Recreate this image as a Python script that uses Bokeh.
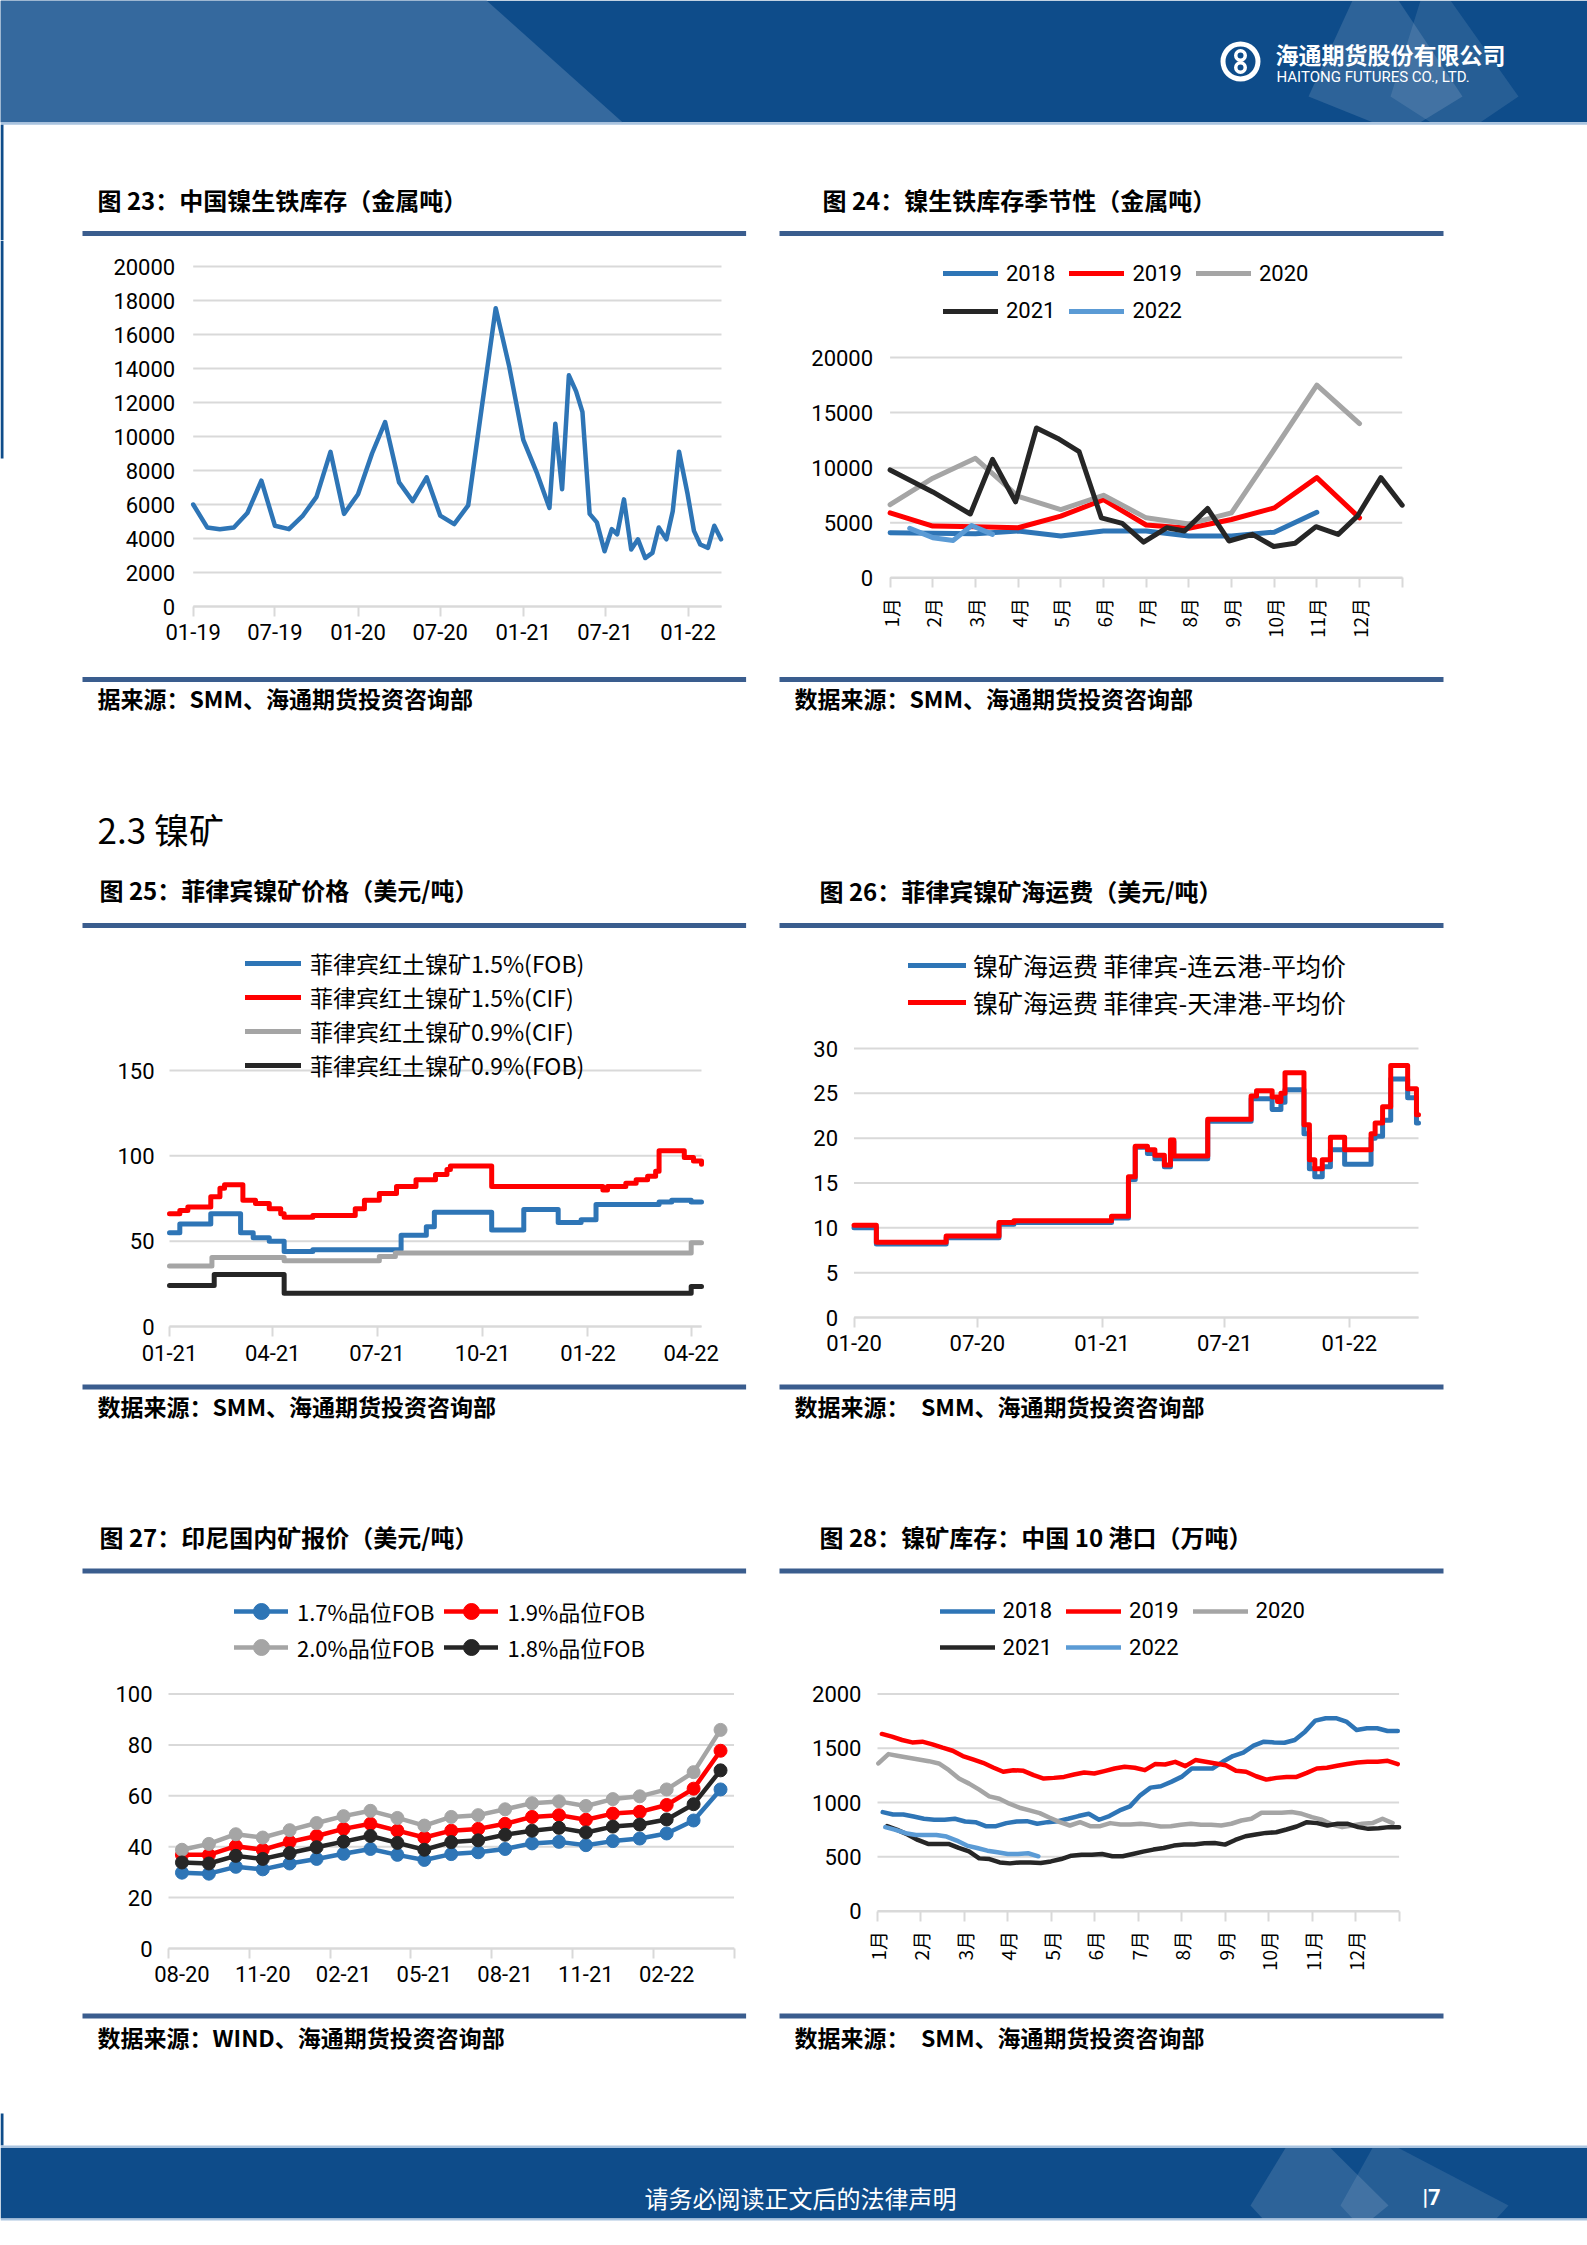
import math
import numpy as np
import pandas as pd
from bokeh.plotting import figure
from bokeh.layouts import column, row
from bokeh.models import Range1d, FixedTicker, Legend, LegendItem
from bokeh.core.properties import value
from bokeh.embed import file_html
from bokeh.resources import INLINE

# ====================== DATA ======================
# 图23 中国镍生铁库存（金属吨）
npi_dates = ["2019-01-01", "2019-02-01", "2019-03-01", "2019-04-01", "2019-05-01", "2019-06-01",
             "2019-07-01", "2019-08-01", "2019-09-01", "2019-10-01", "2019-11-01", "2019-12-01",
             "2020-01-01", "2020-02-01", "2020-03-01", "2020-04-01", "2020-05-01", "2020-06-01",
             "2020-07-01", "2020-08-01", "2020-09-01", "2020-10-01", "2020-11-01", "2020-12-01",
             "2021-01-01", "2021-02-01", "2021-02-28", "2021-03-13", "2021-03-28", "2021-04-12",
             "2021-04-28", "2021-05-12", "2021-05-28", "2021-06-13", "2021-06-30", "2021-07-16",
             "2021-07-28", "2021-08-12", "2021-08-28", "2021-09-12", "2021-09-28", "2021-10-14",
             "2021-10-28", "2021-11-14", "2021-11-28", "2021-12-12", "2021-12-31", "2022-01-14",
             "2022-01-28", "2022-02-14", "2022-02-28", "2022-03-15"]
npi_stock = [6000, 4650, 4550, 4650, 5500, 7400, 4750, 4550, 5350, 6450, 9100, 5450,
             6600, 9000, 10850, 7300, 6200, 7600, 5350, 4850, 5950, 11700, 17550, 14100,
             9800, 7800, 5800, 10750, 6900, 13600, 12650, 11450, 5450, 4950, 3250, 4550,
             4250, 6300, 3350, 3950, 2850, 3150, 4650, 3950, 5600, 9100, 6600, 4450,
             3650, 3450, 4750, 3950]
npi_tick_dates = ["2019-01-01", "2019-07-01", "2020-01-01", "2020-07-01", "2021-01-01", "2021-07-01", "2022-01-01"]
npi_tick_labels = ["01-19", "07-19", "01-20", "07-20", "01-21", "07-21", "01-22"]

# 图24 镍生铁库存季节性（金属吨）  x = month position (0 = 1月初)
season_labels = ["1月", "2月", "3月", "4月", "5月", "6月", "7月", "8月", "9月", "10月", "11月", "12月"]
season_2018 = [4100, 4050, 4000, 4250, 3800, 4250, 4250, 3800, 3800, 4150, 5950]
season_2019 = [5900, 4700, 4650, 4550, 5600, 7100, 4800, 4500, 5300, 6350, 9100, 5450]
season_2020 = [6650, 9050, 10850, 7400, 6200, 7500, 5450, 4900, 5900, 11650, 17500, 14000]
season_2021_pos = [0, 1, 1.88, 2.4, 2.94, 3.43, 3.93, 4.43, 4.95, 5.44, 5.94, 6.48, 6.9, 7.44,
                   7.94, 8.49, 8.99, 9.49, 9.98, 10.5, 10.95, 11.5, 12]
season_2021 = [9800, 7800, 5800, 10750, 6900, 13600, 12650, 11450, 5450, 4950, 3250, 4550, 4250,
               6300, 3350, 3950, 2850, 3150, 4650, 3950, 5600, 9100, 6600]
season_2022_pos = [0.46, 1.0, 1.48, 1.91, 2.4]
season_2022 = [4500, 3650, 3400, 4750, 3950]

# 图25 菲律宾镍矿价格（美元/吨） step series
ph15_fob_dates = ["2021-01-01", "2021-01-10", "2021-02-06", "2021-03-04", "2021-03-15", "2021-03-29",
                  "2021-04-11", "2021-05-06", "2021-07-22", "2021-08-13", "2021-08-20", "2021-10-09",
                  "2021-11-06", "2021-12-06", "2021-12-26", "2022-01-08", "2022-03-04", "2022-03-15",
                  "2022-04-01", "2022-04-10"]
ph15_fob = [55, 60, 66, 55, 52, 50, 44, 45, 53.5, 58.5, 67, 56.5, 68.5, 61, 62.5, 71.5, 73, 74, 73, 73]
ph15_cif_dates = ["2021-01-01", "2021-01-10", "2021-01-17", "2021-02-06", "2021-02-14", "2021-02-18",
                  "2021-03-06", "2021-03-17", "2021-03-29", "2021-04-08", "2021-04-11", "2021-05-06",
                  "2021-06-12", "2021-06-20", "2021-07-03", "2021-07-18", "2021-08-04", "2021-08-21",
                  "2021-08-31", "2021-09-03", "2021-10-09", "2022-01-14", "2022-01-18", "2022-02-03",
                  "2022-02-12", "2022-02-22", "2022-03-01", "2022-03-04", "2022-03-26", "2022-04-03",
                  "2022-04-10"]
ph15_cif = [66, 68, 70, 76, 81, 83, 74, 72, 69, 66, 64, 65, 69, 74, 78, 82, 86, 89, 92, 94, 82, 80,
            82, 84, 86, 88, 91, 103, 99, 97, 95]
ph09_cif_dates = ["2021-01-01", "2021-02-07", "2021-04-11", "2021-07-03", "2021-07-17", "2022-04-01", "2022-04-10"]
ph09_cif = [35.5, 40.5, 38.5, 41, 43, 49, 49]
ph09_fob_dates = ["2021-01-01", "2021-02-09", "2021-04-11", "2022-04-01", "2022-04-10"]
ph09_fob = [24, 30.5, 19.5, 23.5, 23.5]
ph_tick_dates = ["2021-01-01", "2021-04-01", "2021-07-01", "2021-10-01", "2022-01-01", "2022-04-01"]
ph_tick_labels = ["01-21", "04-21", "07-21", "10-21", "01-22", "04-22"]

# 图26 菲律宾镍矿海运费（美元/吨） step series
freight_dates = ["2020-01-01", "2020-02-03", "2020-05-16", "2020-08-02", "2020-08-24", "2021-01-15",
                 "2021-02-09", "2021-02-19", "2021-03-09", "2021-03-20", "2021-04-03", "2021-04-12",
                 "2021-04-17", "2021-06-06", "2021-08-09", "2021-08-17", "2021-09-09", "2021-09-17",
                 "2021-09-22", "2021-09-28", "2021-10-26", "2021-11-03", "2021-11-11", "2021-11-22",
                 "2021-12-04", "2021-12-25", "2022-02-02", "2022-02-08", "2022-02-19", "2022-03-03",
                 "2022-03-28", "2022-04-10", "2022-04-13"]
freight_lyg = [10.0, 8.2, 8.9, 10.4, 10.6, 11.1, 15.4, 19.0, 18.3, 17.7, 16.8, 19.6, 17.7, 21.9, 24.4,
               24.4, 23.2, 23.2, 24.0, 25.4, 20.5, 16.6, 15.7, 16.8, 18.7, 17.1, 20.0, 20.2, 22.0, 26.6,
               24.5, 21.7, 21.7]
freight_tj = [10.3, 8.4, 9.1, 10.6, 10.8, 11.3, 15.7, 19.1, 18.7, 18.1, 17.0, 19.8, 18.0, 22.1, 24.7,
              25.3, 24.6, 24.1, 25.0, 27.3, 21.5, 17.6, 16.6, 17.6, 20.1, 18.7, 20.5, 21.7, 23.5, 28.1,
              25.5, 22.6, 22.6]
freight_tick_dates = ["2020-01-01", "2020-07-01", "2021-01-01", "2021-07-01", "2022-01-01"]
freight_tick_labels = ["01-20", "07-20", "01-21", "07-21", "01-22"]

# 图27 印尼国内矿报价（美元/吨）
indo_months = ["08-20", "09-20", "10-20", "11-20", "12-20", "01-21", "02-21", "03-21", "04-21",
               "05-21", "06-21", "07-21", "08-21", "09-21", "10-21", "11-21", "12-21", "01-22",
               "02-22", "03-22", "04-22"]
indo_17 = [29.8, 29.4, 32.1, 31.1, 33.4, 35.2, 37.2, 39.1, 36.8, 34.8, 37.1, 37.8, 39.1, 41.3, 41.9,
           40.6, 42.2, 43.2, 45.2, 50.3, 62.5]
indo_19 = [36.8, 36.8, 40.2, 38.8, 41.9, 44.2, 47.0, 49.0, 46.3, 43.6, 46.3, 47.0, 49.0, 51.7, 52.4,
           50.6, 53.0, 53.7, 56.4, 62.8, 77.7]
indo_20 = [38.8, 41.1, 44.9, 43.6, 46.5, 49.3, 52.0, 54.1, 51.3, 48.3, 51.7, 52.4, 54.7, 57.1, 57.8,
           56.0, 58.7, 59.8, 62.5, 69.3, 85.9]
indo_18 = [33.8, 33.4, 36.4, 35.2, 37.5, 39.8, 42.0, 44.2, 41.5, 38.8, 41.8, 42.5, 44.7, 46.3, 47.4,
           45.6, 47.9, 48.7, 50.7, 56.7, 70.0]

# 图28 镍矿库存：中国10港口（万吨） weekly, first/last week position in months
port_2018 = [911, 890, 890, 871, 850, 841, 841, 850, 825, 819, 782, 782, 810, 825, 828, 804, 819, 828,
             850, 875, 896, 841, 875, 927, 964, 1066, 1137, 1150, 1190, 1236, 1313, 1313, 1313, 1375,
             1428, 1459, 1524, 1561, 1554, 1551, 1576, 1653, 1755, 1777, 1777, 1746, 1669, 1684, 1684,
             1659, 1659]
port_2019 = [1632, 1607, 1576, 1554, 1561, 1536, 1505, 1477, 1428, 1397, 1366, 1323, 1283, 1298, 1292,
             1252, 1221, 1227, 1236, 1258, 1276, 1267, 1289, 1313, 1329, 1320, 1298, 1354, 1350, 1375,
             1335, 1391, 1375, 1360, 1344, 1292, 1283, 1242, 1211, 1227, 1236, 1236, 1273, 1313, 1320,
             1338, 1354, 1369, 1375, 1375, 1384, 1354]
port_2020 = [1360, 1446, 1428, 1412, 1397, 1381, 1360, 1298, 1221, 1174, 1119, 1057, 1035, 989, 952,
             927, 902, 859, 819, 788, 819, 782, 782, 810, 797, 797, 804, 794, 779, 782, 794, 804, 794,
             794, 788, 804, 834, 850, 906, 906, 906, 912, 896, 865, 841, 797, 773, 788, 804, 810, 850, 810]
port_2021 = [782, 748, 705, 655, 618, 618, 618, 581, 550, 485, 479, 448, 439, 448, 448, 442, 457, 479,
             510, 519, 519, 525, 504, 504, 525, 547, 566, 581, 603, 612, 612, 624, 627, 612, 655, 689,
             705, 720, 726, 751, 779, 819, 810, 788, 804, 804, 773, 757, 763, 773, 773]
port_2022 = [773, 748, 717, 701, 701, 701, 686, 649, 603, 581, 556, 541, 525, 525, 532, 504]
port_span = {"2018": (0.12, 11.97), "2019": (0.10, 11.97), "2020": (0.02, 11.85),
             "2021": (0.22, 12.0), "2022": (0.18, 3.70)}

# ====================== STYLE / GEOMETRY ======================
BLUE, RED, GRAY, BLACK, LBLUE = "#2E75B6", "#FF0000", "#A5A5A5", "#262626", "#5B9BD5"
GRID, RULE = "#D9D9D9", "#3A5D8E"
DARK, LIGHT, PALE = "#0E4C8A", "#35699E", "#A9C3DF"
CJK, NUM = "Noto Sans CJK SC", "Roboto"
PW = 1587
XM = 765  # page x where right cells start


def ms(d):
    return int(pd.Timestamp(d).value // 10 ** 6)


# ---------------- decoration figures (page coordinates) ----------------
def deco(top, bottom):
    p = figure(width=PW, height=bottom - top, x_range=Range1d(0, PW), y_range=Range1d(bottom, top),
               x_axis_type=None, y_axis_type=None, toolbar_location=None, output_backend="svg",
               title=None, min_border=0)
    p.outline_line_color = None
    p.background_fill_color = "white"
    p.border_fill_color = "white"
    return p


def txt(p, x, y, s, size, color="#000000", bold=True, align="left", font=CJK):
    p.text(x=[x], y=[y], text=[s], text_font=value(font), text_font_size=value(f"{size}px"),
           text_font_style="bold" if bold else "normal", text_color=color,
           text_align=align, text_baseline="middle")


def band(p, x0, x1, y0, y1, color, alpha=1.0):
    p.quad(left=[x0], right=[x1], top=[y0], bottom=[y1], fill_color=color, fill_alpha=alpha, line_color=None)


def rules(p, yc, t=5):
    band(p, 82, 745.6, yc - t / 2, yc + t / 2, RULE)
    band(p, 779, 1443, yc - t / 2, yc + t / 2, RULE)


# ---------------- chart figure ----------------
# The frame fills the whole figure; ranges are chosen so that the data box
# (xs..xe, 0..ymax) lands on page pixels (lpx..rpx, apx..tpx).
GEOM = {}


def chart(name, cx0, cx1, T, B, xs, xe, lpx, rpx, ymax, tpx, apx, yticks, ystand, xtype="linear"):
    fl, fr, ft, fb = cx0, cx1, T, B
    kx = (rpx - lpx) / (xe - xs)
    ky = (apx - tpx) / ymax
    xr = Range1d(xs - (lpx - fl) / kx, xe + (fr - rpx) / kx)
    yr = Range1d(-(fb - apx) / ky, ymax + (tpx - ft) / ky)
    GEOM[name] = (fl, fb, xs, lpx, kx, apx, ky)
    p = figure(width=cx1 - cx0, height=B - T, x_range=xr, y_range=yr, x_axis_type=xtype,
               toolbar_location=None, output_backend="svg", title=None, min_border=0)
    p.outline_line_color = None
    p.background_fill_color = "white"
    p.border_fill_color = "white"
    p.xgrid.visible = False
    p.ygrid.visible = False
    # horizontal gridlines across the data box only
    p.segment(x0=[xs] * len(yticks), x1=[xe] * len(yticks), y0=yticks, y1=yticks,
              line_color=GRID, line_width=2)
    ya = p.yaxis[0]
    ya.ticker = FixedTicker(ticks=yticks)
    ya.fixed_location = xs
    ya.bounds = (0, ymax)
    ya.axis_line_color = None
    ya.major_tick_line_color = None
    ya.minor_tick_line_color = None
    ya.major_tick_in = 0
    ya.major_tick_out = 0
    ya.major_label_standoff = ystand
    ya.major_label_text_font = NUM
    ya.major_label_text_font_size = "22px"
    ya.major_label_text_color = "#000000"
    xa = p.xaxis[0]
    xa.fixed_location = 0
    xa.bounds = (xs, xe)
    xa.axis_line_color = GRID
    xa.axis_line_width = 2
    xa.major_tick_line_color = GRID
    xa.major_tick_line_width = 2
    xa.major_tick_in = 0
    xa.major_tick_out = 10
    xa.minor_tick_line_color = None
    xa.major_label_text_font = NUM
    xa.major_label_text_font_size = "22px"
    xa.major_label_text_color = "#000000"
    return p


def page_quad(p, name, x0, x1, y0, y1, color):
    # decoration drawn inside a chart figure, given in page pixels
    fl, fb, xs, lpx, kx, apx, ky = GEOM[name]
    p.quad(left=[xs + (x0 - lpx) / kx], right=[xs + (x1 - lpx) / kx],
           top=[(apx - y0) / ky], bottom=[(apx - y1) / ky], fill_color=color, line_color=None)


def set_xticks(p, ticks, labels, standoff, minor=None):
    xa = p.xaxis[0]
    xa.ticker = FixedTicker(ticks=ticks, minor_ticks=minor or [])
    xa.major_label_overrides = dict(zip(ticks, labels))
    xa.major_label_standoff = standoff


def legend_row(p, name, items, x_page, yc_page, font, size, glyph_w, standoff, spacing):
    fl, fb = GEOM[name][:2]
    lg = Legend(items=items, location=(x_page - fl, fb - yc_page - 20),
                orientation="horizontal", glyph_width=glyph_w, glyph_height=40, label_height=40,
                label_standoff=standoff, spacing=spacing, padding=0, margin=0, border_line_color=None,
                background_fill_alpha=0, label_text_font=font, label_text_font_size=size,
                label_text_color="#000000")
    p.add_layout(lg)


LW = dict(line_join="round", line_cap="round")

# ====================== DECO A: header + row-1 titles ======================
dA = deco(0, 240)
band(dA, 0, PW, 0, 121.7, DARK)
dA.patch([0, 486, 622, 0], [0, 0, 121.7, 121.7], fill_color=LIGHT, line_color=None)
dA.patch([1352, 1398, 1462, 1420, 1372, 1308], [0, 0, 96, 121.7, 121.7, 96], fill_color="white", fill_alpha=0.13, line_color=None)
dA.patch([1420, 1450, 1518, 1480, 1430, 1390], [0, 0, 96, 121.7, 121.7, 96], fill_color="white", fill_alpha=0.10, line_color=None)
band(dA, 0, PW, 121.7, 124.2, PALE)
band(dA, 0, 3, 124.2, 240, DARK)
dA.annulus(x=[1240], y=[61], inner_radius=15, outer_radius=20, fill_color="white", line_color=None)
dA.annulus(x=[1240], y=[55], inner_radius=3, outer_radius=6.5, fill_color="white", line_color=None)
dA.annulus(x=[1240], y=[67], inner_radius=3, outer_radius=6.5, fill_color="white", line_color=None)
txt(dA, 1275, 53, "海通期货股份有限公司", 23, color="white", bold=True)
txt(dA, 1276, 76, "HAITONG FUTURES CO., LTD.", 15, color="white", bold=False, font=NUM)
txt(dA, 97, 199, "图 23：中国镍生铁库存（金属吨）", 24)
txt(dA, 822, 199, "图 24：镍生铁库存季节性（金属吨）", 24)
rules(dA, 233)

# ====================== ROW 1 (page y 240..670) ======================
T1, B1 = 240, 670
# 图23
c23 = chart("c23", 0, XM, T1, B1, ms("2019-01-01"), ms("2022-03-16"), 192.7, 721,
            20000, 266, 606, list(range(0, 20001, 2000)), 18, xtype="datetime")
set_xticks(c23, [ms(d) for d in npi_tick_dates], npi_tick_labels, 7)
page_quad(c23, "c23", 0, 3, 240, 458, DARK)
c23.line([ms(d) for d in npi_dates], npi_stock, line_color=BLUE, line_width=4.5, **LW)

# 图24
c24 = chart("c24", XM, PW, T1, B1, 0, 12, 889.6, 1401.7, 20000, 357, 577.4,
            [0, 5000, 10000, 15000, 20000], 17)
set_xticks(c24, list(range(13)), season_labels + [""], 10)
c24.xaxis[0].major_label_orientation = math.pi / 2
c24.xaxis[0].major_label_text_font = CJK
c24.xaxis[0].major_label_text_font_size = "19px"
r18 = c24.line(list(range(len(season_2018))), season_2018, line_color=BLUE, line_width=5, **LW)
r19 = c24.line(list(range(len(season_2019))), season_2019, line_color=RED, line_width=5, **LW)
r20 = c24.line(list(range(len(season_2020))), season_2020, line_color=GRAY, line_width=5, **LW)
r21 = c24.line(season_2021_pos, season_2021, line_color=BLACK, line_width=5, **LW)
r22 = c24.line(season_2022_pos, season_2022, line_color=LBLUE, line_width=5, **LW)
legend_row(c24, "c24", [LegendItem(label="2018", renderers=[r18]), LegendItem(label="2019", renderers=[r19]),
                        LegendItem(label="2020", renderers=[r20])], 943, 273, NUM, "22px", 55, 8, 14)
legend_row(c24, "c24", [LegendItem(label="2021", renderers=[r21]), LegendItem(label="2022", renderers=[r22])],
           943, 310.5, NUM, "22px", 55, 8, 14)

# ====================== DECO B (page y 670..930) ======================
dB = deco(670, 930)
rules(dB, 679)
txt(dB, 97, 697, "据来源：SMM、海通期货投资咨询部", 23)
txt(dB, 794, 697, "数据来源：SMM、海通期货投资咨询部", 23)
txt(dB, 97, 828, "2.3 镍矿", 35, bold=False)
txt(dB, 99, 889, "图 25：菲律宾镍矿价格（美元/吨）", 24)
txt(dB, 819, 890, "图 26：菲律宾镍矿海运费（美元/吨）", 24)
rules(dB, 925)

# ====================== ROW 2 (page y 930..1378) ======================
T2, B2 = 930, 1378
# 图25
c25 = chart("c25", 0, XM, T2, B2, ms("2021-01-01"), ms("2022-04-10"), 169, 701,
            150, 1070, 1326, [0, 50, 100, 150], 15, xtype="datetime")
set_xticks(c25, [ms(d) for d in ph_tick_dates], ph_tick_labels, 8)
s1 = c25.step([ms(d) for d in ph15_fob_dates], ph15_fob, mode="after", line_color=BLUE, line_width=5, **LW)
s2 = c25.step([ms(d) for d in ph15_cif_dates], ph15_cif, mode="after", line_color=RED, line_width=5, **LW)
s3 = c25.step([ms(d) for d in ph09_cif_dates], ph09_cif, mode="after", line_color=GRAY, line_width=5, **LW)
s4 = c25.step([ms(d) for d in ph09_fob_dates], ph09_fob, mode="after", line_color=BLACK, line_width=5, **LW)
for lab, r, yc in [("菲律宾红土镍矿1.5%(FOB)", s1, 963), ("菲律宾红土镍矿1.5%(CIF)", s2, 997),
                   ("菲律宾红土镍矿0.9%(CIF)", s3, 1031), ("菲律宾红土镍矿0.9%(FOB)", s4, 1065)]:
    legend_row(c25, "c25", [LegendItem(label=lab, renderers=[r])], 245, yc, CJK, "23px", 56, 9, 0)

# 图26
c26 = chart("c26", XM, PW, T2, B2, ms("2020-01-01"), ms("2022-04-13"), 853.5, 1418,
            30, 1048, 1317, [0, 5, 10, 15, 20, 25, 30], 16, xtype="datetime")
set_xticks(c26, [ms(d) for d in freight_tick_dates], freight_tick_labels, 7)
fx = [ms(d) for d in freight_dates]
f1 = c26.step(fx, freight_lyg, mode="after", line_color=BLUE, line_width=5, **LW)
f2 = c26.step(fx, freight_tj, mode="after", line_color=RED, line_width=5, **LW)
legend_row(c26, "c26", [LegendItem(label="镍矿海运费 菲律宾-连云港-平均价", renderers=[f1])], 908, 964.6,
           CJK, "25px", 58, 7, 0)
legend_row(c26, "c26", [LegendItem(label="镍矿海运费 菲律宾-天津港-平均价", renderers=[f2])], 908, 1001.8,
           CJK, "25px", 58, 7, 0)

# ====================== DECO C (page y 1378..1585) ======================
dC = deco(1378, 1585)
rules(dC, 1386.5)
txt(dC, 97, 1405, "数据来源：SMM、海通期货投资咨询部", 23)
txt(dC, 794, 1405, "数据来源：\u3000SMM、海通期货投资咨询部", 23)
txt(dC, 99, 1536, "图 27：印尼国内矿报价（美元/吨）", 24)
txt(dC, 819, 1536, "图 28：镍矿库存：中国 10 港口（万吨）", 24)
rules(dC, 1570.5)

# ====================== ROW 3 (page y 1585..2003) ======================
T3, B3 = 1585, 2003
# 图27
n27 = len(indo_months)
c27 = chart("c27", 0, XM, T3, B3, 0, n27, 168, 733.5, 100, 1693.5, 1948,
            [0, 20, 40, 60, 80, 100], 16)
lab_idx = list(range(0, n27, 3))
set_xticks(c27, [i + 0.5 for i in lab_idx], [indo_months[i] for i in lab_idx], 7,
           minor=list(range(0, n27 + 1, 3)))
xa27 = c27.xaxis[0]
xa27.major_tick_line_color = None
xa27.minor_tick_line_color = GRID
xa27.minor_tick_line_width = 2
xa27.minor_tick_in = 0
xa27.minor_tick_out = 10
x27 = [i + 0.5 for i in range(n27)]
leg27 = []
for lab, ser, col in [("1.7%品位FOB", indo_17, BLUE), ("1.9%品位FOB", indo_19, RED),
                      ("2.0%品位FOB", indo_20, GRAY), ("1.8%品位FOB", indo_18, BLACK)]:
    rl = c27.line(x27, ser, line_color=col, line_width=4.5, **LW)
    rs = c27.scatter(x27, ser, marker="circle", size=13, fill_color=col, line_color=col)
    leg27.append(LegendItem(label=lab, renderers=[rl, rs]))
legend_row(c27, "c27", leg27[:2], 234, 1611, CJK, "22px", 54, 9, 10)
legend_row(c27, "c27", leg27[2:], 234, 1647, CJK, "22px", 54, 9, 10)

# 图28
c28 = chart("c28", XM, PW, T3, B3, 0, 12, 877, 1398.6, 2000, 1693.5, 1910.5,
            [0, 500, 1000, 1500, 2000], 16)
set_xticks(c28, list(range(13)), season_labels + [""], 10)
c28.xaxis[0].major_label_orientation = math.pi / 2
c28.xaxis[0].major_label_text_font = CJK
c28.xaxis[0].major_label_text_font_size = "19px"
leg28 = []
for yr, ser, col in [("2018", port_2018, BLUE), ("2019", port_2019, RED), ("2020", port_2020, GRAY),
                     ("2021", port_2021, BLACK), ("2022", port_2022, LBLUE)]:
    a, b = port_span[yr]
    xs = list(np.linspace(a, b, len(ser)))
    r = c28.line(xs, ser, line_color=col, line_width=4.5, **LW)
    leg28.append(LegendItem(label=yr, renderers=[r]))
legend_row(c28, "c28", leg28[:3], 939.6, 1610.5, NUM, "22px", 55, 8, 14)
legend_row(c28, "c28", leg28[3:], 939.6, 1647, NUM, "22px", 55, 8, 14)

# ====================== DECO D: sources + footer (page y 2003..2245) ======================
dD = deco(2003, 2245)
rules(dD, 2015.5)
txt(dD, 97, 2036, "数据来源：WIND、海通期货投资咨询部", 23)
txt(dD, 794, 2036, "数据来源：\u3000SMM、海通期货投资咨询部", 23)
band(dD, 0, 3, 2113, 2145, DARK)
band(dD, 0, PW, 2145, 2147.5, PALE)
band(dD, 0, PW, 2147.5, 2218, DARK)
band(dD, 0, PW, 2218, 2220, PALE)
dD.patch([1285, 1330, 1388, 1372, 1262, 1250], [2147.5, 2147.5, 2205, 2218, 2218, 2205], fill_color="white", fill_alpha=0.13, line_color=None)
dD.patch([1372, 1398, 1508, 1496, 1352, 1340], [2147.5, 2147.5, 2205, 2218, 2218, 2205], fill_color="white", fill_alpha=0.10, line_color=None)
txt(dD, 800, 2197, "请务必阅读正文后的法律声明", 24, color="white", bold=False, align="center")
txt(dD, 1422, 2197, "|7", 22, color="white", bold=True, font=NUM)

layout = column(dA, row(c23, c24), dB, row(c25, c26), dC, row(c27, c28), dD)
open("out.html", "w").write(file_html(layout, INLINE, title="镍 7"))
